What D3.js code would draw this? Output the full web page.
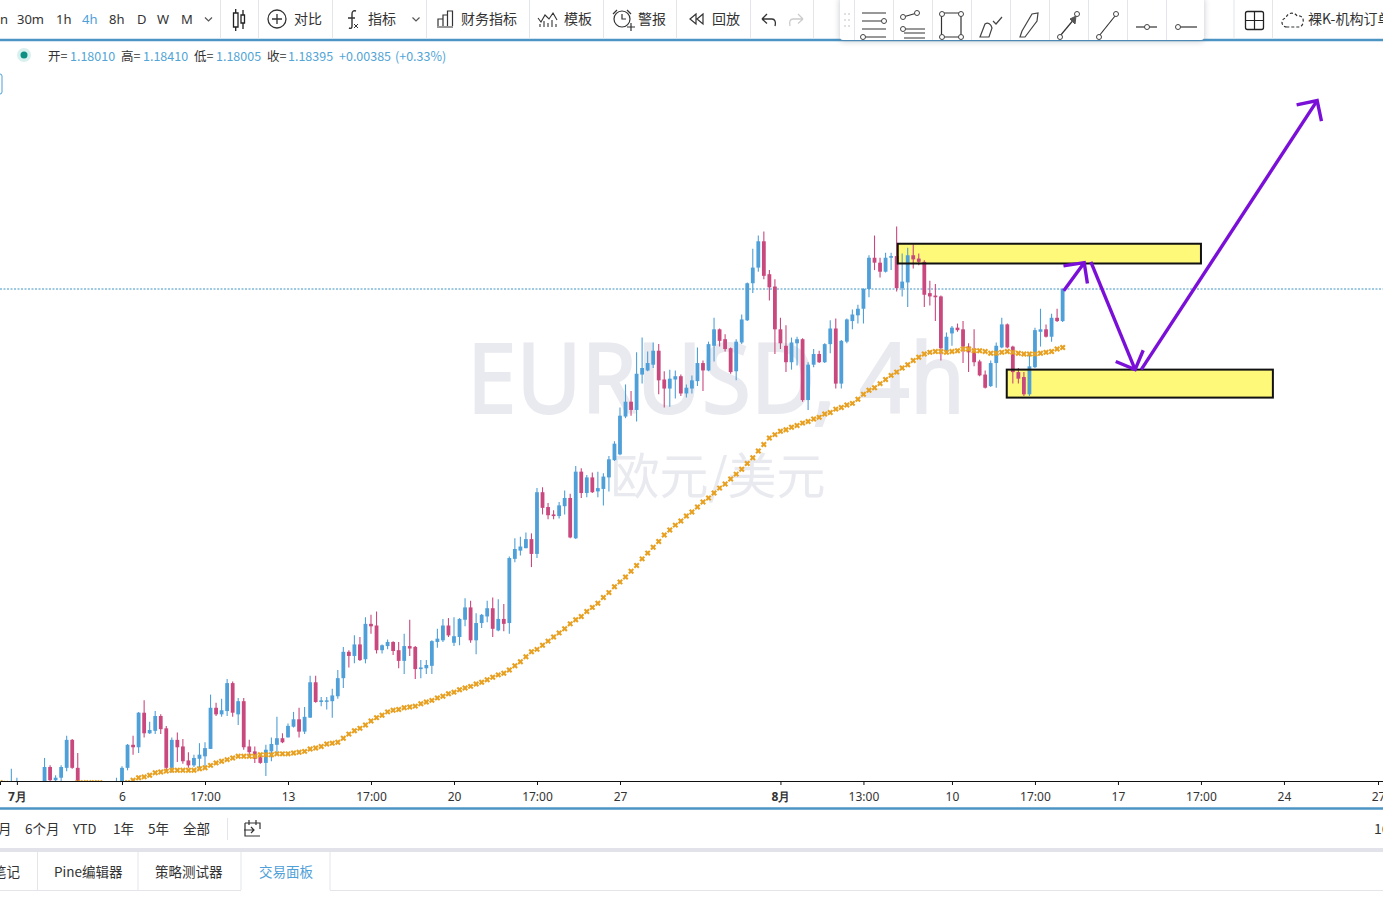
<!DOCTYPE html>
<html>
<head>
<meta charset="utf-8">
<title>EURUSD 4h</title>
<script src="https://d3js.org/d3.v7.min.js"></script>
<style>
  html, body { margin: 0; padding: 0; background: #fff; overflow: hidden; }
  svg { display: block; font-family: "Noto Sans CJK SC", "Noto Sans", sans-serif; }
  .axis text { font-size: 12px; fill: #333; font-family: "Noto Sans", sans-serif; }
  .axis .major text { font-weight: bold; }
</style>
</head>
<body>
<script>
// Prices are stored as price x 10000, bars are counted from the "6" tick (6 July)
var firstBar = -22;

var opens = [
  11228,11231,11230,11232,11238,11234,11231,11235,11237,11259,11243,11246,11258,11292,11258,11231,11235,11228,11233,11229,11234,11231,
  11241,11258,11286,11283,11325,11300,11303,11321,11306,11258,
  11292,11284,11267,11261,11269,11272,11281,11331,11323,11327,
  11361,11323,11339,11284,11278,11271,11264,11278,11286,11294,
  11295,11308,11317,11302,11319,11362,11338,11339,11339,11345,
  11367,11399,11394,11408,11390,11433,11431,11401,11406,11411,
  11401,11388,11406,11405,11378,11379,11382,11411,11413,11431,
  11410,11417,11438,11453,11413,11434,11442,11452,11425,11439,
  11434,11512,11522,11525,11536,11518,11593,11575,11566,11564,
  11576,11586,11537,11618,11592,11611,11594,11597,11611,11632,
  11639,11685,11703,11693,11736,11741,11748,11765,11730,11719,
  11730,11734,11713,11719,11728,11750,11741,11771,11791,11779,
  11768,11740,11775,11802,11847,11866,11898,11858,11843,11791,
  11771,11751,11774,11779,11705,11748,11761,11751,11773,11792,
  11725,11776,11801,11808,11816,11840,11878,11872,11861,11878,
  11880,11841,11848,11881,11877,11873,11835,11832,11831,11765,
  11786,11793,11791,11770,11765,11752,11736,11722,11750,11769,
  11797,11770,11739,11733,11712,11745,11788,11791,11782,11805,
  11801
];
var highs = [
  11235,11236,11257,11246,11240,11239,11238,11240,11270,11261,11249,11261,11297,11293,11276,11240,11240,11236,11239,11237,11240,11246,
  11260,11287,11297,11326,11340,11314,11327,11323,11309,11295,
  11301,11293,11277,11274,11288,11289,11347,11337,11342,11366,
  11363,11343,11343,11292,11284,11274,11286,11295,11320,11300,
  11312,11326,11331,11332,11370,11370,11344,11344,11354,11377,
  11405,11401,11419,11417,11441,11444,11448,11408,11414,11412,
  11411,11421,11438,11406,11389,11389,11413,11427,11439,11440,
  11441,11440,11464,11461,11446,11445,11461,11465,11463,11457,
  11515,11537,11539,11544,11543,11598,11599,11580,11571,11581,
  11595,11591,11625,11622,11614,11617,11618,11616,11637,11655,
  11696,11724,11716,11763,11781,11764,11775,11773,11740,11742,
  11741,11736,11724,11735,11769,11753,11776,11805,11792,11785,
  11769,11779,11809,11848,11889,11905,11910,11863,11852,11805,
  11796,11781,11782,11780,11751,11767,11765,11774,11802,11804,
  11778,11804,11815,11821,11841,11881,11905,11878,11884,11884,
  11916,11883,11890,11894,11883,11875,11850,11846,11832,11787,
  11795,11798,11801,11774,11791,11754,11741,11753,11775,11805,
  11798,11771,11744,11739,11762,11793,11816,11797,11810,11816,
  11841
];
var lows = [
  11222,11226,11224,11226,11230,11228,11226,11228,11233,11241,11241,11241,11254,11257,11225,11224,11226,11222,11226,11224,11228,11226,
  11237,11255,11274,11276,11295,11299,11299,11299,11255,11252,
  11265,11263,11258,11259,11258,11258,11281,11321,11320,11321,
  11320,11310,11280,11271,11264,11263,11248,11266,11275,11288,
  11295,11307,11295,11299,11319,11337,11333,11329,11319,11342,
  11355,11380,11385,11388,11385,11421,11397,11397,11402,11395,
  11379,11372,11394,11366,11367,11372,11372,11404,11411,11417,
  11406,11407,11430,11410,11396,11428,11435,11417,11424,11424,
  11421,11508,11516,11525,11502,11513,11566,11560,11560,11561,
  11566,11537,11536,11586,11587,11592,11587,11577,11594,11631,
  11638,11683,11686,11679,11725,11740,11744,11712,11696,11697,
  11707,11710,11708,11713,11722,11716,11740,11752,11770,11764,
  11737,11729,11773,11801,11835,11861,11852,11826,11761,11767,
  11739,11742,11747,11703,11693,11745,11750,11750,11762,11719,
  11719,11774,11791,11798,11798,11830,11863,11854,11860,11863,
  11837,11831,11818,11865,11869,11818,11820,11801,11753,11763,
  11771,11788,11750,11739,11746,11734,11719,11721,11720,11768,
  11768,11725,11725,11710,11710,11744,11770,11781,11776,11800,
  11800
];
var closes = [
  11231,11229,11238,11238,11234,11231,11235,11232,11259,11243,11246,11259,11292,11258,11231,11235,11228,11233,11229,11234,11231,11236,
  11258,11286,11283,11325,11300,11304,11321,11305,11258,11292,
  11283,11266,11261,11270,11274,11282,11331,11323,11328,11361,
  11325,11339,11283,11277,11269,11264,11280,11287,11294,11289,
  11309,11317,11302,11320,11362,11338,11340,11340,11346,11367,
  11399,11394,11408,11389,11433,11430,11401,11407,11411,11400,
  11388,11406,11403,11378,11380,11383,11412,11415,11431,11419,
  11418,11439,11453,11413,11434,11444,11452,11427,11439,11433,
  11513,11524,11527,11536,11518,11593,11574,11565,11564,11577,
  11586,11538,11618,11592,11611,11593,11598,11612,11633,11652,
  11686,11703,11693,11737,11744,11750,11765,11729,11719,11731,
  11734,11713,11720,11729,11750,11741,11773,11791,11777,11767,
  11739,11776,11803,11847,11866,11898,11856,11842,11791,11774,
  11751,11775,11779,11705,11748,11761,11751,11773,11792,11725,
  11777,11803,11809,11816,11840,11878,11872,11861,11878,11880,
  11841,11849,11881,11876,11873,11833,11831,11830,11768,11782,
  11793,11790,11770,11763,11751,11735,11720,11750,11771,11797,
  11769,11739,11731,11712,11746,11790,11791,11782,11805,11801,
  11840
];
// Orange moving average, one value per bar
var movingAvg = [
  11240,11239,11237,11237,11236,11236,11236,11236,11236,11236,11236,11237,11238,11238,11240,11240,11240,11240,11240,11238,11237,11237,
  11237,11240,11243,11246,11247,11249,11252,11253,11254,11255,
  11255,11255,11255,11255,11257,11258,11261,11264,11266,11268,
  11270,11272,11272,11272,11272,11274,11274,11274,11275,11275,
  11275,11276,11277,11278,11281,11282,11284,11287,11288,11289,
  11294,11299,11303,11306,11310,11315,11319,11322,11326,11328,
  11329,11331,11332,11333,11336,11338,11340,11343,11345,11348,
  11350,11353,11355,11357,11360,11362,11365,11368,11371,11373,
  11377,11382,11387,11393,11399,11402,11407,11412,11417,11422,
  11427,11433,11438,11442,11448,11453,11458,11465,11471,11478,
  11484,11490,11497,11504,11512,11519,11526,11533,11541,11547,
  11553,11558,11564,11569,11575,11581,11586,11592,11598,11603,
  11609,11615,11621,11628,11635,11643,11651,11659,11663,11667,
  11669,11672,11674,11677,11679,11682,11684,11688,11690,11694,
  11696,11699,11701,11706,11712,11717,11720,11725,11730,11735,
  11739,11744,11748,11753,11757,11761,11763,11764,11764,11763,
  11764,11765,11767,11767,11765,11765,11764,11762,11762,11763,
  11764,11763,11762,11761,11761,11761,11762,11763,11764,11767,
  11769
];

var tickBars = [-19, 0, 15, 30, 45, 60, 75, 90, 119, 134, 150, 165, 180, 195, 210, 227];
var tickLabels = ["7月", "6", "17:00", "13", "17:00", "20", "17:00", "27", "8月", "13:00", "10", "17:00", "17", "17:00", "24", "27"];

var lastClose = 11840;

// Hand drawn zones and arrows on the chart, as [bar, price]
var zones = [
  [[140.2, 11895], [195, 11871]],
  [[159.9, 11742], [208, 11708]]
];
var arrows = [
  [[170.2, 11838], [173.9, 11872]],
  [[175.1, 11873], [183.1, 11742]],
  [[184.2, 11742], [216, 12069]]
];

var legendTexts = ["开=", "1.18010", "高=", "1.18410", "低=", "1.18005", "收=", "1.18395", "+0.00385", "(+0.33%)"];
var legendIsValue = [0, 1, 0, 1, 0, 1, 0, 1, 1, 1];

var width = 1383, height = 921;
var upColor = "#4f9fd8", downColor = "#c9487e", maColor = "#e8a020", purple = "#7a10d8";
var ink = "#333", rule = "#e3e5ea", blueRule = "#4b94c4";

var svg = d3.select("body").append("svg").attr("width", width).attr("height", height);

var x = d3.scaleLinear().domain([-22.05, 227.9]).range([0, width]);
var y = d3.scaleLinear().domain([11242, 11840]).range([781, 289]);

svg.append("defs").append("clipPath").attr("id", "plot")
  .append("rect").attr("x", 0).attr("y", 41).attr("width", width).attr("height", 740);

// Watermark
svg.append("text").attr("x", 467).attr("y", 413)
  .attr("textLength", 498).attr("lengthAdjust", "spacingAndGlyphs")
  .style("font-family", "'Noto Sans', sans-serif").style("font-size", "96px")
  .attr("fill", "#e9eaef").attr("stroke", "#e9eaef").attr("stroke-width", 2)
  .text("EURUSD, 4h");
svg.append("text").attr("x", 718).attr("y", 494).attr("text-anchor", "middle")
  .style("font-size", "49px").attr("fill", "#e9eaef").text("欧元/美元");

// Last price line
svg.append("line").attr("x1", 0).attr("x2", width).attr("y1", y(lastClose)).attr("y2", y(lastClose))
  .attr("stroke", "#3f94c8").attr("stroke-width", 1).attr("stroke-dasharray", "2 1.5");

// Zone fills sit under the candles, their borders go on top
function zoneRects(cls) {
  return svg.selectAll("rect." + cls).data(zones).enter().append("rect").attr("class", cls)
    .attr("x", function(d) { return x(d[0][0]); })
    .attr("y", function(d) { return y(d[0][1]); })
    .attr("width", function(d) { return x(d[1][0]) - x(d[0][0]); })
    .attr("height", function(d) { return y(d[1][1]) - y(d[0][1]); });
}
zoneRects("zone-fill").attr("fill", "#fff97a");

var plot = svg.append("g").attr("clip-path", "url(#plot)");

var bars = d3.range(opens.length).map(function(i) {
  return { bar: firstBar + i, open: opens[i], high: highs[i], low: lows[i], close: closes[i], ma: movingAvg[i] };
});

var candles = plot.selectAll("g.candle").data(bars).enter().append("g").attr("class", "candle")
  .attr("fill", function(d) { return d.close >= d.open ? upColor : downColor; })
  .attr("stroke", function(d) { return d.close >= d.open ? upColor : downColor; });
candles.append("line")
  .attr("x1", function(d) { return x(d.bar); }).attr("x2", function(d) { return x(d.bar); })
  .attr("y1", function(d) { return y(d.high); }).attr("y2", function(d) { return y(d.low); })
  .attr("stroke-width", 1.1);
candles.append("rect")
  .attr("x", function(d) { return x(d.bar) - 1.9; })
  .attr("width", 3.8)
  .attr("y", function(d) { return y(Math.max(d.open, d.close)); })
  .attr("height", function(d) { return Math.max(1.5, Math.abs(y(d.open) - y(d.close))); })
  .attr("stroke", "none");

var cross = d3.symbol().type(d3.symbolCross).size(22);
plot.selectAll("path.ma").data(bars).enter().append("path").attr("class", "ma")
  .attr("d", cross).attr("fill", maColor)
  .attr("transform", function(d) { return "translate(" + x(d.bar) + "," + y(d.ma) + ") rotate(45)"; });

zoneRects("zone-line").attr("fill", "none").attr("stroke", "#111").attr("stroke-width", 2);

// Arrows: shaft plus two barbs at 45 degrees
var arrowLine = d3.line().x(function(p) { return p[0]; }).y(function(p) { return p[1]; });
arrows.forEach(function(a) {
  var x0 = x(a[0][0]), y0 = y(a[0][1]), x1 = x(a[1][0]), y1 = y(a[1][1]);
  var angle = Math.atan2(y0 - y1, x0 - x1), len = 21;
  var b1 = [x1 + len * Math.cos(angle + Math.PI / 4), y1 + len * Math.sin(angle + Math.PI / 4)];
  var b2 = [x1 + len * Math.cos(angle - Math.PI / 4), y1 + len * Math.sin(angle - Math.PI / 4)];
  [[[x0, y0], [x1, y1]], [b1, [x1, y1], b2]].forEach(function(pts) {
    svg.append("path").attr("d", arrowLine(pts)).attr("fill", "none")
      .attr("stroke", purple).attr("stroke-width", 3.4);
  });
});

// Time axis
var axis = d3.axisBottom(x).tickValues(tickBars).tickSizeOuter(0).tickSize(4).tickPadding(7)
  .tickFormat(function(d) { return tickLabels[tickBars.indexOf(d)]; });
var axisG = svg.append("g").attr("class", "axis").attr("transform", "translate(0,781)").call(axis);
axisG.select(".domain").attr("stroke", "#111");
axisG.selectAll(".tick").classed("major", function(d) { return tickLabels[tickBars.indexOf(d)].indexOf("月") >= 0; });
axisG.selectAll(".tick line").attr("stroke", "#111");

// ---- page chrome ----
function rule_(x1, y1, x2, y2, color, w) {
  return svg.append("line").attr("x1", x1).attr("y1", y1).attr("x2", x2).attr("y2", y2)
    .attr("stroke", color || rule).attr("stroke-width", w || 1);
}
function label(t, x0, yy, size, color, anchor) {
  return svg.append("text").attr("x", x0).attr("y", yy).attr("font-size", size || 14)
    .attr("fill", color || ink).attr("text-anchor", anchor || "start").text(t);
}
function icon(d, stroke, w, fill) {
  return svg.append("path").attr("d", d).attr("fill", fill || "none")
    .attr("stroke", stroke || "#333").attr("stroke-width", w || 1.2);
}
function handle(cx, cy) {
  svg.append("circle").attr("cx", cx).attr("cy", cy).attr("r", 2.5)
    .attr("fill", "#fff").attr("stroke", "#444").attr("stroke-width", 1);
}

rule_(0, 40, width, 40, blueRule, 2.5);
rule_(0, 808.5, width, 808.5, blueRule, 2.5);
svg.append("rect").attr("x", 0).attr("y", 848).attr("width", width).attr("height", 4).attr("fill", "#e2e3ea");
rule_(0, 890.5, 241, 890.5);
rule_(330, 890.5, width, 890.5);

[["n", 0], ["30m", 17], ["1h", 56], ["4h", 82], ["8h", 109], ["D", 137], ["W", 157], ["M", 181]].forEach(function(t) {
  label(t[0], t[1], 24, 13, t[0] === "4h" ? "#4f9fd8" : ink).style("font-family", "'Noto Sans', sans-serif");
});
icon("M205 17.5l3.5 3.5 3.5-3.5", "#555");
icon("M412.500 17.500l3.500 3.500 3.500-3.500", "#555");
[220, 258, 332, 426, 529, 603, 676, 750, 813, 1233.5, 1272].forEach(function(sx) { rule_(sx + 0.5, 0, sx + 0.5, 39); });

label("对比", 294, 24);
label("指标", 368, 24);
label("财务指标", 461, 24);
label("模板", 564, 24);
label("警报", 638, 24);
label("回放", 712, 24);
label("裸K-机构订单", 1308, 24);

// toolbar icons
icon("M233.500 13h4.500v14h-4.500zM235.700 9v4M235.700 27v4", "#222", 1.3);
icon("M241 15h3.500v8h-3.500zM243 10v5M243 23v6", "#222", 1.3);
svg.append("circle").attr("cx", 277).attr("cy", 19).attr("r", 9).attr("fill", "none").attr("stroke", "#333").attr("stroke-width", 1.3);
icon("M272 19h10M277 14v10", "#333", 1.3);
icon("M356 11c-3-1-4 1-4 3v12c0 2-1 3-3 2M348 18h7", "#333", 1.4);
icon("M354 24l4 4M358 24l-4 4", "#333", 1);
icon("M438 26v-7h5v7M443 26v-11h4.500v11M447.5 26v-15h5v15M437 27h16", "#333", 1.2);
icon("M538 18l3 4 4-7 4 4 4-6 4 7M540 27v-3M544 27v-6M548 27v-4M552 27v-7M556 27v-3", "#333", 1.1);
svg.append("circle").attr("cx", 622).attr("cy", 19).attr("r", 8).attr("fill", "none").attr("stroke", "#333").attr("stroke-width", 1.2);
icon("M622 14v5h4M613 14l4-4M627 10l4 4", "#333", 1.2);
icon("M627 27h8M631 23v8", "#333", 1.2);
icon("M696 14l-6 5 6 5zM703 14l-6 5 6 5z", "#333", 1.2);
icon("M762 19l5-5M762 19l5 4.500M762 19h10c3 0 4 3 3 7", "#333", 1.3);
icon("M803 19l-5-5M803 19l-5 4.500M803 19h-10c-3 0-4 3-3 7", "#ccc", 1.3);

// floating drawing panel
svg.append("rect").attr("x", 840).attr("y", -3).attr("width", 364).attr("height", 43).attr("rx", 3)
  .attr("fill", "#fff").style("filter", "drop-shadow(0 1px 3px rgba(80,90,110,.35))");
[854, 893, 932, 971, 1010, 1049, 1088, 1127, 1166].forEach(function(sx) { rule_(sx + 0.5, 0, sx + 0.5, 40); });
[[845, 20], [849, 20], [845, 26], [849, 26], [845, 14], [849, 14]].forEach(function(p) {
  svg.append("circle").attr("cx", p[0]).attr("cy", p[1]).attr("r", 1).attr("fill", "#d5d7dd");
});
icon("M862 13h24M862 21h22M862 29h24M865 37h21", "#333");
handle(884, 21); handle(863, 37);
icon("M903 17l14-4M904 29h21M904 33h21M904 38h21", "#333");
handle(903, 17); handle(917, 13); handle(903, 29);
icon("M943 13h17M943 37h17M941.500 15v20M961 15v20", "#333");
handle(942, 14); handle(961, 14); handle(942, 37); handle(961, 37);
icon("M980 37l5-13c3-2 6 0 7 4l-3 9z M993 21l3 3 6-7", "#444");
icon("M1020 37l2-6 10-17 6-1-1 8-12 16z", "#444");
icon("M1060 36l15-18", "#333");
icon("M1070 19l6-3-1 8z", "#555", 1, "#555");
handle(1060, 37); handle(1077, 14);
icon("M1099 36l16-20", "#333");
handle(1099, 37); handle(1116, 14);
icon("M1136 27h21", "#333"); handle(1147, 27);
icon("M1180 27h17", "#333"); handle(1178, 27);

// grid + cloud icon
svg.append("rect").attr("x", 1245.5).attr("y", 11.5).attr("width", 18).attr("height", 18).attr("rx", 2)
  .attr("fill", "none").attr("stroke", "#222").attr("stroke-width", 1.3);
icon("M1245 20.500h18M1254.500 11v18", "#222", 1.2);
svg.append("path").attr("d", "M1287 27c-6 0-7-8-1-9 1-6 9-6 11-2 5-1 7 3 6 6 0 3-2 5-4 5z")
  .attr("fill", "none").attr("stroke", "#333").attr("stroke-width", 1.2).attr("stroke-dasharray", "3 2");

// legend
svg.append("circle").attr("cx", 24).attr("cy", 55).attr("r", 7).attr("fill", "#d9f0ee");
svg.append("circle").attr("cx", 24).attr("cy", 55).attr("r", 3.5).attr("fill", "#0e8f83");
var legendStarts = [48, 70, 121, 143, 194, 216, 267, 288, 339, 395];
legendTexts.forEach(function(t, i) {
  label(t, legendStarts[i], 61, 12.5, legendIsValue[i] ? "#52a5d6" : ink);
});
svg.append("rect").attr("x", -5).attr("y", 74).attr("width", 7).attr("height", 20).attr("rx", 2)
  .attr("fill", "#fff").attr("stroke", "#4f9fd8");

// bottom range row
label("月", -2, 834, 13.5);
label("6个月", 25, 834, 13.5);
label("YTD", 73, 834, 13);
label("1年", 113, 834, 13.5);
label("5年", 148, 834, 13.5);
label("全部", 183, 834, 13.5);
label("16", 1374, 834);
rule_(227.5, 818, 227.5, 840);
icon("M245 823h15v6M245 823v13h15M249 820v5M256 820v5M244 830h10M251 827l3 3-3 3", "#333", 1.2);

// tabs
[37.5, 138, 241, 330].forEach(function(sx) { rule_(sx, 852, sx, 890); });
label("笔记", -7, 877, 13.5);
label("Pine编辑器", 54, 877, 13.5);
label("策略测试器", 155, 877, 13.5);
label("交易面板", 259, 877, 13.5, "#4f9fd8");
</script>
</body>
</html>
